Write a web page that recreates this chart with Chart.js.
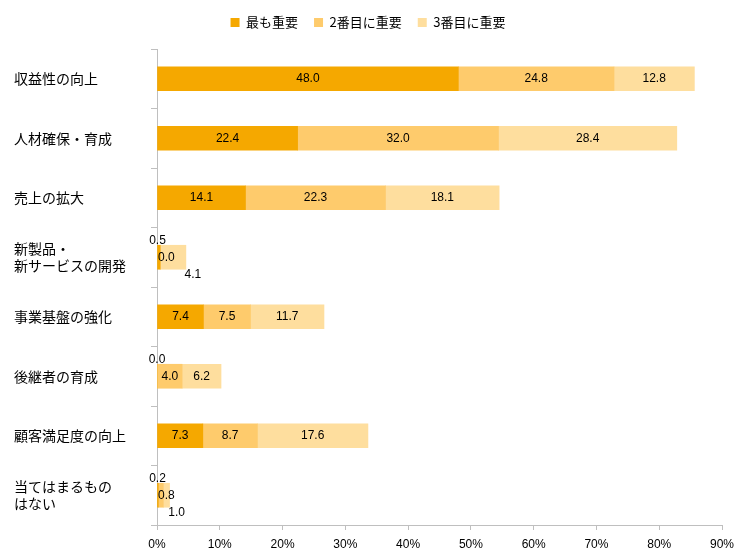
<!DOCTYPE html>
<html>
<head>
<meta charset="utf-8">
<script src="https://cdn.jsdelivr.net/npm/chart.js@4"></script>
<style>
  body { margin: 0; background: #fff; }
  #wrap { width: 746px; height: 553px; }
</style>
</head>
<body>
<div id="wrap"><canvas id="kadaiChart" width="746" height="553"></canvas></div>
<script>
const categories = [
    '収益性の向上',
    '人材確保・育成',
    '売上の拡大',
    ['新製品・', '新サービスの開発'],
    '事業基盤の強化',
    '後継者の育成',
    '顧客満足度の向上',
    ['当てはまるもの', 'はない']
];
const seriesNames = ['最も重要', '2番目に重要', '3番目に重要'];
const mostImportant = [48.0, 22.4, 14.1, 0.5, 7.4, 0.0, 7.3, 0.2];
const secondImportant = [24.8, 32.0, 22.3, 0.0, 7.5, 4.0, 8.7, 0.8];
const thirdImportant = [12.8, 28.4, 18.1, 4.1, 11.7, 6.2, 17.6, 1.0];
const xTicks = [0, 10, 20, 30, 40, 50, 60, 70, 80, 90];

const colors = ['#F5A800', '#FECB6C', '#FEDE9E'];
const numFont = '12px "Liberation Sans", "Noto Sans", sans-serif';
const jpFont = '"Noto Sans CJK JP", "Noto Sans", sans-serif';

// 値ラベル (Excel風、小さい値は上下にずらす)
const valueLabels = {
    id: 'valueLabels',
    afterDatasetsDraw(chart) {
        const ctx = chart.ctx;
        const left = chart.chartArea.left;
        ctx.save();
        ctx.font = numFont;
        ctx.fillStyle = '#000';
        ctx.textBaseline = 'middle';
        ctx.textAlign = 'center';
        chart.data.datasets.forEach((ds, di) => {
            const meta = chart.getDatasetMeta(di);
            meta.data.forEach((bar, i) => {
                const v = ds.data[i];
                const txt = v.toFixed(1);
                const w = ctx.measureText(txt).width;
                const x0 = Math.min(bar.base, bar.x);
                const x1 = Math.max(bar.base, bar.x);
                let x = (x0 + x1) / 2;
                let y = bar.y;
                if (di === 0 && v < 1) {
                    x = x0;
                    y = bar.y - 17;
                } else if (di === 2 && chart.data.datasets[1].data[i] < 1) {
                    x = x1 + 7;
                    y = bar.y + 17;
                } else {
                    x = Math.max(x, left + w / 2 + 1);
                }
                ctx.fillText(txt, x, y);
            });
        });
        ctx.restore();
    }
};

// 凡例の下に少し余白
const legendGap = {
    id: 'legendGap',
    beforeInit(chart) {
        const fit = chart.legend.fit;
        chart.legend.fit = function () {
            fit.bind(chart.legend)();
            this.height += 10;
        };
    }
};

const ctx = document.getElementById('kadaiChart').getContext('2d');

new Chart(ctx, {
    type: 'bar',
    data: {
        labels: categories,
        datasets: [
            { label: seriesNames[0], data: mostImportant, backgroundColor: colors[0] },
            { label: seriesNames[1], data: secondImportant, backgroundColor: colors[1] },
            { label: seriesNames[2], data: thirdImportant, backgroundColor: colors[2] }
        ]
    },
    options: {
        indexAxis: 'y',
        responsive: false,
        animation: false,
        barThickness: 24,
        layout: { padding: { left: 14, right: 24, top: 0, bottom: 0 } },
        plugins: {
            legend: {
                position: 'top',
                labels: {
                    boxWidth: 9,
                    boxHeight: 9,
                    padding: 16,
                    color: '#000',
                    font: { family: jpFont, size: 13 }
                }
            },
            tooltip: { enabled: false }
        },
        scales: {
            x: {
                stacked: true,
                min: 0,
                max: 90,
                afterBuildTicks(scale) {
                    scale.ticks = xTicks.map(v => ({ value: v }));
                },
                afterFit(scale) { scale.height = 28; },
                ticks: {
                    color: '#000',
                    font: { family: '"Liberation Sans", sans-serif', size: 12 },
                    callback: v => v + '%',
                    padding: 7
                },
                grid: {
                    drawOnChartArea: false,
                    tickLength: 5,
                    color: '#BFBFBF'
                },
                border: { color: '#BFBFBF' }
            },
            y: {
                stacked: true,
                afterFit(scale) { scale.width = 143; },
                ticks: {
                    color: '#000',
                    crossAlign: 'far',
                    font: { family: jpFont, size: 14 },
                    padding: 8
                },
                grid: {
                    drawOnChartArea: false,
                    offset: true,
                    tickLength: 6,
                    color: '#BFBFBF'
                },
                border: { color: '#BFBFBF' }
            }
        }
    },
    plugins: [valueLabels, legendGap]
});
</script>
</body>
</html>
